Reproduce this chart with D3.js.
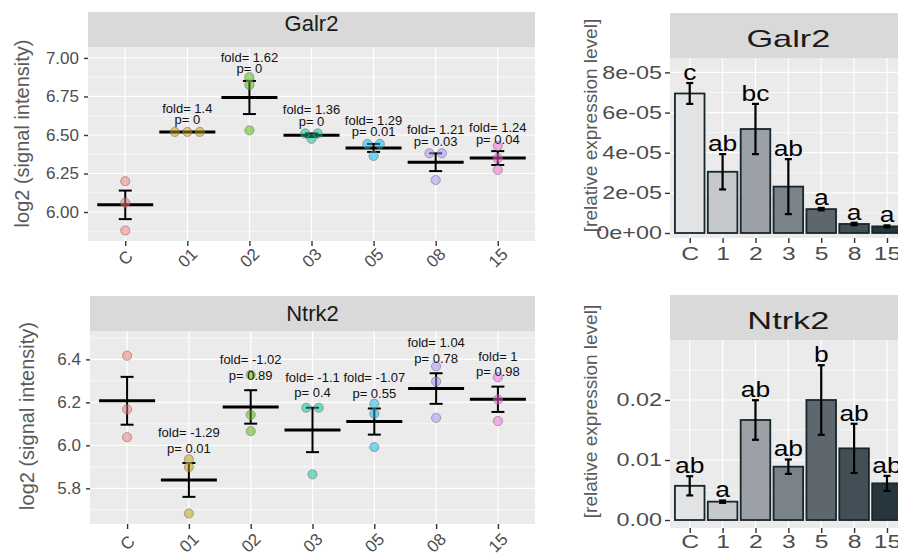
<!DOCTYPE html>
<html>
<head>
<meta charset="utf-8">
<script src="https://cdn.jsdelivr.net/npm/d3@7"></script>
<style>
  body { margin: 0; background: #fff; }
  svg text { font-family: "Liberation Sans", Arial, sans-serif; }
</style>
</head>
<body>
<div id="chart"></div>
<script>
// Data
var groups = ["C", "01", "02", "03", "05", "08", "15"];
var barGroups = ["C", "1", "2", "3", "5", "8", "15"];

// log2 signal intensity, three arrays per group
var galr2Points = [
  [6.20, 6.06, 5.88],
  [6.52, 6.52, 6.52],
  [6.875, 6.825, 6.53],
  [6.51, 6.51, 6.475],
  [6.442, 6.442, 6.364],
  [6.381, 6.381, 6.208],
  [6.429, 6.349, 6.273]
];
var galr2Fold = ["", "1.4", "1.62", "1.36", "1.29", "1.21", "1.24"];
var galr2P = ["", "0", "0", "0", "0.01", "0.03", "0.04"];

var ntrk2Points = [
  [6.417, 6.167, 6.038],
  [5.935, 5.899, 5.683],
  [6.328, 6.142, 6.066],
  [6.175, 6.175, 5.865],
  [6.193, 6.147, 5.992],
  [6.368, 6.297, 6.128],
  [6.317, 6.213, 6.113]
];
var ntrk2Fold = ["", "-1.29", "-1.02", "-1.1", "-1.07", "1.04", "1"];
var ntrk2P = ["", "0.01", "0.89", "0.4", "0.55", "0.78", "0.98"];

// qPCR relative expression (mean, se, letters)
var galr2Mean = [6.95e-5, 3.05e-5, 5.18e-5, 2.31e-5, 1.19e-5, 0.45e-5, 0.33e-5];
var galr2Se = [0.52e-5, 0.88e-5, 1.25e-5, 1.37e-5, 0.06e-5, 0.06e-5, 0.05e-5];
var galr2Letters = ["c", "ab", "bc", "ab", "a", "a", "a"];

var ntrk2Mean = [0.0057, 0.00306, 0.01667, 0.00889, 0.020, 0.01194, 0.00611];
var ntrk2Se = [0.0016, 0.0002, 0.0033, 0.0012, 0.0058, 0.0041, 0.00125];
var ntrk2Letters = ["ab", "a", "ab", "ab", "b", "ab", "ab"];

// tick values / labels
var galr2DotTicks = [6.00, 6.25, 6.50, 6.75, 7.00];
var galr2DotLabels = ["6.00", "6.25", "6.50", "6.75", "7.00"];
var ntrk2DotTicks = [5.8, 6.0, 6.2, 6.4];
var ntrk2DotLabels = ["5.8", "6.0", "6.2", "6.4"];
var galr2BarTicks = [0, 2e-5, 4e-5, 6e-5, 8e-5];
var galr2BarLabels = ["0e+00", "2e-05", "4e-05", "6e-05", "8e-05"];
var ntrk2BarTicks = [0, 0.01, 0.02];
var ntrk2BarLabels = ["0.00", "0.01", "0.02"];

// styles
var hue = ["#F8766D", "#C49A00", "#53B400", "#00C094", "#00B6EB", "#A58AFF", "#FB61D7"];
var barFills = ["#E3E4E5", "#C6C9CB", "#9BA1A6", "#7B838A", "#5E676E", "#434F56", "#27363C"];

var svg = d3.select("#chart").append("svg")
  .attr("width", 898)
  .attr("height", 556);

function stretchText(sel, sx) {
  sel.each(function() {
    var t = d3.select(this);
    var x = +t.attr("x") || 0;
    var y = +t.attr("y") || 0;
    t.attr("x", 0).attr("y", 0)
      .attr("transform", "translate(" + x + "," + y + ") scale(" + sx + ",1)");
  });
}

function frame(g, cfg, x, y) {
  // panel background
  g.append("rect")
    .attr("x", cfg.x0).attr("y", cfg.top)
    .attr("width", cfg.x1 - cfg.x0).attr("height", cfg.bottom - cfg.top)
    .attr("fill", "#EBEBEB");
  // strip
  g.append("rect")
    .attr("x", cfg.x0).attr("y", cfg.stripTop)
    .attr("width", cfg.x1 - cfg.x0).attr("height", cfg.top - cfg.stripTop)
    .attr("fill", "#D9D9D9");
  var st = g.append("text")
    .attr("x", (cfg.x0 + cfg.x1) / 2)
    .attr("y", (cfg.stripTop + cfg.top) / 2 + cfg.stripDy)
    .attr("text-anchor", "middle")
    .attr("dominant-baseline", "central")
    .attr("font-size", cfg.stripSize)
    .attr("fill", "#1A1A1A")
    .text(cfg.title);
  if (cfg.sx) stretchText(st, cfg.stripSx);

  // grid
  cfg.minor.forEach(function(v) {
    g.append("line")
      .attr("x1", cfg.x0).attr("x2", cfg.x1)
      .attr("y1", y(v)).attr("y2", y(v))
      .attr("stroke", "#fff").attr("stroke-width", 0.6);
  });
  cfg.ticks.forEach(function(v) {
    g.append("line")
      .attr("x1", cfg.x0).attr("x2", cfg.x1)
      .attr("y1", y(v)).attr("y2", y(v))
      .attr("stroke", "#fff").attr("stroke-width", 1.2);
  });
  x.domain().forEach(function(c) {
    g.append("line")
      .attr("x1", x(c)).attr("x2", x(c))
      .attr("y1", cfg.top).attr("y2", cfg.bottom)
      .attr("stroke", "#fff").attr("stroke-width", 1.2);
  });

  // y axis
  var ya = g.append("g")
    .attr("transform", "translate(" + cfg.x0 + ",0)")
    .call(d3.axisLeft(y).tickValues(cfg.ticks)
      .tickFormat(function(d, i) { return cfg.tickLabels[i]; })
      .tickSize(cfg.tickLen).tickPadding(cfg.tickPad));
  ya.select(".domain").remove();
  ya.selectAll("line").attr("stroke", "#333").attr("stroke-width", 1.4);
  ya.selectAll("text").attr("font-size", cfg.tickSize).attr("fill", "#4D4D4D");
  if (cfg.sx) stretchText(ya.selectAll("text"), cfg.sx);

  // x axis
  var xa = g.append("g")
    .attr("transform", "translate(0," + cfg.bottom + ")")
    .call(d3.axisBottom(x).tickSize(5).tickPadding(3));
  xa.select(".domain").remove();
  xa.selectAll("line").attr("stroke", "#333").attr("stroke-width", 1.4);
  xa.selectAll("text").attr("font-size", cfg.xTickSize).attr("fill", "#4D4D4D");
  if (cfg.rotate) {
    xa.selectAll("text")
      .attr("y", 0).attr("dy", null)
      .attr("text-anchor", "middle")
      .attr("dominant-baseline", "central")
      .attr("transform", "translate(0," + cfg.xLabelDy + ") rotate(-45)");
  } else {
    xa.selectAll("text")
      .attr("dy", null)
      .attr("y", cfg.xLabelDy)
      .attr("dominant-baseline", "central");
    stretchText(xa.selectAll("text"), cfg.sx);
  }

  // y title
  g.append("text")
    .attr("transform", "translate(" + cfg.titleX + "," + ((cfg.stripTop + cfg.bottom) / 2 + cfg.titleDy) + ") rotate(-90)")
    .attr("text-anchor", "middle")
    .attr("dominant-baseline", "central")
    .attr("font-size", cfg.titleSize)
    .attr("fill", "#5A5A5A")
    .text(cfg.yTitle);
}

function dotPanel(cfg) {
  var g = svg.append("g");
  var x = d3.scalePoint().domain(groups).range([cfg.x0, cfg.x1]).padding(0.6);
  var y = d3.scaleLinear().domain(cfg.domain).range([cfg.bottom, cfg.top]);
  frame(g, cfg, x, y);

  var stats = groups.map(function(name, i) {
    var vals = cfg.points[i];
    return {
      name: name,
      vals: vals,
      mean: d3.mean(vals),
      se: d3.deviation(vals) / Math.sqrt(vals.length),
      fold: cfg.fold[i],
      p: cfg.p[i],
      color: hue[i]
    };
  });

  // error bars + mean line
  stats.forEach(function(s) {
    var cx = x(s.name);
    if (s.se > 0) {
      g.append("line")
        .attr("x1", cx).attr("x2", cx)
        .attr("y1", y(s.mean - s.se)).attr("y2", y(s.mean + s.se))
        .attr("stroke", "#000").attr("stroke-width", 2);
      [s.mean - s.se, s.mean + s.se].forEach(function(v) {
        g.append("line")
          .attr("x1", cx - 6.5).attr("x2", cx + 6.5)
          .attr("y1", y(v)).attr("y2", y(v))
          .attr("stroke", "#000").attr("stroke-width", 2);
      });
    }
    g.append("line")
      .attr("x1", cx - 28).attr("x2", cx + 28)
      .attr("y1", y(s.mean)).attr("y2", y(s.mean))
      .attr("stroke", "#000").attr("stroke-width", 3);
  });

  // points, equal values side by side
  stats.forEach(function(s) {
    var counts = d3.rollup(s.vals, function(v) { return v.length; }, function(d) { return d; });
    var seen = new Map();
    s.vals.forEach(function(v) {
      var n = counts.get(v);
      var k = seen.get(v) || 0;
      seen.set(v, k + 1);
      g.append("circle")
        .attr("cx", x(s.name) + (k - (n - 1) / 2) * 12.5)
        .attr("cy", y(v))
        .attr("r", 4.6)
        .attr("fill", s.color).attr("fill-opacity", 0.5)
        .attr("stroke", "#777").attr("stroke-opacity", 0.6).attr("stroke-width", 1);
    });
  });

  // fold / p labels
  stats.forEach(function(s) {
    if (!s.fold) return;
    var top = y(s.mean + s.se) - cfg.labOff;
    g.append("text")
      .attr("x", x(s.name)).attr("y", top)
      .attr("text-anchor", "middle").attr("dominant-baseline", "central")
      .attr("font-size", 13).attr("fill", "#111")
      .text("p= " + s.p);
    g.append("text")
      .attr("x", x(s.name)).attr("y", top - cfg.labGap)
      .attr("text-anchor", "middle").attr("dominant-baseline", "central")
      .attr("font-size", 13).attr("fill", "#111")
      .text("fold= " + s.fold);
  });
}

function barPanel(cfg) {
  var g = svg.append("g");
  var x = d3.scalePoint().domain(barGroups).range([cfg.x0, cfg.x1]).padding(0.6);
  var y = d3.scaleLinear().domain(cfg.domain).range([cfg.bottom, cfg.top]);
  frame(g, cfg, x, y);
  var bw = x.step() * 0.9;

  barGroups.forEach(function(name, i) {
    var cx = x(name);
    var m = cfg.mean[i], se = cfg.se[i];
    g.append("rect")
      .attr("x", cx - bw / 2).attr("y", y(m))
      .attr("width", bw).attr("height", y(0) - y(m))
      .attr("fill", barFills[i])
      .attr("stroke", "#16262B").attr("stroke-width", 1.8);
    g.append("line")
      .attr("x1", cx).attr("x2", cx)
      .attr("y1", y(m - se)).attr("y2", y(m + se))
      .attr("stroke", "#000").attr("stroke-width", 2.2);
    [m - se, m + se].forEach(function(v) {
      g.append("line")
        .attr("x1", cx - 3.5).attr("x2", cx + 3.5)
        .attr("y1", y(v)).attr("y2", y(v))
        .attr("stroke", "#000").attr("stroke-width", 2.2);
    });
    var lt = g.append("text")
      .attr("x", cx).attr("y", y(m + se) - 3)
      .attr("text-anchor", "middle")
      .attr("font-size", 22).attr("fill", "#000")
      .text(cfg.letters[i]);
    stretchText(lt, 1.2);
  });
}

var leftBase = {
  tickLen: 4, tickPad: 5, tickSize: 17, xTickSize: 17, rotate: true, xLabelDy: 17,
  stripSize: 22, titleSize: 20, labelSize: 13,
  yTitle: "log2 (signal intensity)"
};
var rightBase = {
  tickLen: 5, tickPad: 3, tickSize: 18, xTickSize: 19, rotate: false, xLabelDy: 16, sx: 1.3,
  stripSize: 24, stripSx: 1.43, titleSize: 19, titleX: 590, titleDy: 0, stripDy: 3,
  yTitle: "[relative expression level]"
};

dotPanel(Object.assign({}, leftBase, {
  title: "Galr2", x0: 88, x1: 535, stripTop: 12, top: 47, bottom: 241,
  domain: [5.812, 7.071], ticks: galr2DotTicks, tickLabels: galr2DotLabels,
  minor: [5.875, 6.125, 6.375, 6.625, 6.875],
  points: galr2Points, fold: galr2Fold, p: galr2P,
  labOff: 12, labGap: 11.7, stripDy: -6, titleX: 22, titleDy: 7
}));

dotPanel(Object.assign({}, leftBase, {
  title: "Ntrk2", x0: 90, x1: 535, stripTop: 296, top: 331, bottom: 524,
  domain: [5.634, 6.532], ticks: ntrk2DotTicks, tickLabels: ntrk2DotLabels,
  minor: [5.7, 5.9, 6.1, 6.3, 6.5],
  points: ntrk2Points, fold: ntrk2Fold, p: ntrk2P,
  labOff: 15, labGap: 15.6, stripDy: 0, titleX: 27, titleDy: 6, xLabelDy: 19
}));

barPanel(Object.assign({}, rightBase, {
  title: "Galr2", x0: 670, x1: 906.7, stripTop: 13, top: 58, bottom: 238,
  domain: [-0.249e-5, 8.717e-5], ticks: galr2BarTicks, tickLabels: galr2BarLabels,
  minor: [1e-5, 3e-5, 5e-5, 7e-5],
  mean: galr2Mean, se: galr2Se, letters: galr2Letters
}));

barPanel(Object.assign({}, rightBase, {
  title: "Ntrk2", x0: 670, x1: 906.7, stripTop: 295, top: 340, bottom: 528,
  domain: [-0.00133, 0.030], ticks: ntrk2BarTicks, tickLabels: ntrk2BarLabels,
  minor: [0.005, 0.015, 0.025],
  mean: ntrk2Mean, se: ntrk2Se, letters: ntrk2Letters, xLabelDy: 14
}));
</script>
</body>
</html>
